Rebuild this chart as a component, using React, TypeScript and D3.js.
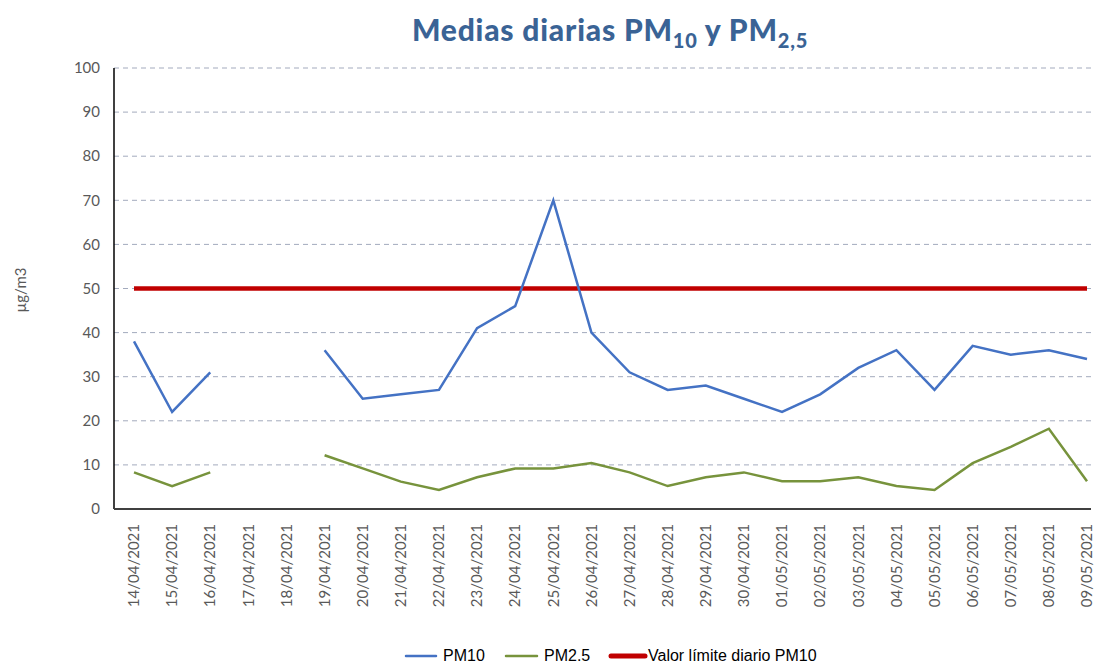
import React, { useEffect, useRef } from 'react'
import * as d3 from 'd3'

const dates = [
  '14/04/2021', '15/04/2021', '16/04/2021', '17/04/2021', '18/04/2021', '19/04/2021',
  '20/04/2021', '21/04/2021', '22/04/2021', '23/04/2021', '24/04/2021', '25/04/2021',
  '26/04/2021', '27/04/2021', '28/04/2021', '29/04/2021', '30/04/2021', '01/05/2021',
  '02/05/2021', '03/05/2021', '04/05/2021', '05/05/2021', '06/05/2021', '07/05/2021',
  '08/05/2021', '09/05/2021',
]
const pm10: (number | null)[] = [
  38, 22, 31, null, null, 36, 25, 26, 27, 41, 46, 70, 40, 31, 27, 28, 25, 22, 26, 32, 36, 27, 37, 35, 36, 34,
]
const pm25: (number | null)[] = [
  8.3, 5.2, 8.3, null, null, 12.2, 9.2, 6.2, 4.3, 7.2, 9.2, 9.2, 10.4, 8.3, 5.2, 7.2, 8.3, 6.3, 6.3, 7.2, 5.2, 4.3, 10.4, 14.1, 18.2, 6.3,
]
const limite = 50
const yTicks = [0, 10, 20, 30, 40, 50, 60, 70, 80, 90, 100]

export default function App() {
  const ref = useRef<SVGSVGElement>(null)

  useEffect(() => {
    const svg = d3.select(ref.current)
    svg.selectAll('*').remove()

    const left = 114, right = 1091, top = 68, bottom = 509
    const font = 'Lato, "Liberation Sans", sans-serif'
    const gray = '#595959'

    // points sit from the first to the last category, close to the frame
    const x = d3.scalePoint().domain(dates).range([134, 1087])
    const cx = (d: string) => x(d) as number
    const y = d3.scaleLinear().domain([0, 100]).range([bottom, top])

    // title
    const title = svg.append('text')
      .attr('x', 610).attr('y', 41)
      .attr('text-anchor', 'middle')
      .attr('font-family', font).attr('font-weight', 900)
      .attr('font-size', 30).attr('letter-spacing', 0.8).attr('fill', '#3A6395')
    title.append('tspan').text('Medias diarias PM')
    title.append('tspan').attr('font-size', 20).attr('dy', 7).text('10')
    title.append('tspan').attr('dy', -7).text(' y PM')
    title.append('tspan').attr('font-size', 20).attr('dy', 7).text('2,5')

    // grid
    svg.append('g').selectAll('line').data(yTicks.filter(t => t > 0)).enter().append('line')
      .attr('x1', left).attr('x2', right)
      .attr('y1', d => y(d)).attr('y2', d => y(d))
      .attr('stroke', '#A3AABD').attr('stroke-width', 1)
      .attr('stroke-dasharray', '5,4')

    // y tick labels
    svg.append('g').selectAll('text').data(yTicks).enter().append('text')
      .attr('x', 100).attr('y', d => y(d)).attr('dy', '0.35em')
      .attr('text-anchor', 'end')
      .attr('font-family', font).attr('font-size', 15).attr('fill', gray)
      .text(d => d)

    // y title
    svg.append('text')
      .attr('transform', 'translate(26,290) rotate(-90)')
      .attr('text-anchor', 'middle')
      .attr('font-family', font).attr('font-size', 15).attr('fill', gray)
      .text('µg/m3')

    // axes
    svg.append('line').attr('x1', left).attr('x2', left).attr('y1', top).attr('y2', bottom)
      .attr('stroke', '#000').attr('stroke-width', 1.5)
    svg.append('line').attr('x1', left).attr('x2', right).attr('y1', bottom).attr('y2', bottom)
      .attr('stroke', '#404040').attr('stroke-width', 2)

    // x tick labels
    svg.append('g').selectAll('text').data(dates).enter().append('text')
      .attr('transform', d => `translate(${cx(d)},524) rotate(-90)`)
      .attr('dy', '0.35em')
      .attr('text-anchor', 'end')
      .attr('font-family', font).attr('font-size', 15).attr('fill', gray)
      .text(d => d)

    // limit line
    svg.append('line')
      .attr('x1', cx(dates[0])).attr('x2', cx(dates[dates.length - 1]))
      .attr('y1', y(limite)).attr('y2', y(limite))
      .attr('stroke', '#C00000').attr('stroke-width', 4.5)

    const line = d3.line<number | null>()
      .defined(d => d !== null)
      .x((d, i) => cx(dates[i]))
      .y(d => y(d as number))

    svg.append('path').datum(pm25).attr('d', line)
      .attr('fill', 'none').attr('stroke', '#77933C').attr('stroke-width', 2.5)
    svg.append('path').datum(pm10).attr('d', line)
      .attr('fill', 'none').attr('stroke', '#4472C4').attr('stroke-width', 2.5)

    // legend
    const legend = [
      { label: 'PM10', color: '#4472C4', w: 2.5, x1: 406, x2: 436 },
      { label: 'PM2.5', color: '#77933C', w: 2.5, x1: 506, x2: 537 },
      { label: 'Valor límite diario PM10', color: '#C00000', w: 5, x1: 611, x2: 645 },
    ]
    const lg = svg.append('g').selectAll('g').data(legend).enter().append('g')
    lg.append('line')
      .attr('x1', d => d.x1).attr('x2', d => d.x2)
      .attr('y1', 656).attr('y2', 656)
      .attr('stroke', d => d.color).attr('stroke-width', d => d.w)
      .attr('stroke-linecap', 'round')
    lg.append('text')
      .attr('x', d => d.x2 + (d.w > 3 ? 3 : 7)).attr('y', 655).attr('dy', '0.35em')
      .attr('font-family', '"Liberation Sans", sans-serif').attr('font-size', 16).attr('fill', '#000')
      .text(d => d.label)
  }, [])

  return (
    <svg ref={ref} width={1094} height={663}
      style={{ position: 'absolute', left: 0, top: 0, background: '#fff' }} />
  )
}
